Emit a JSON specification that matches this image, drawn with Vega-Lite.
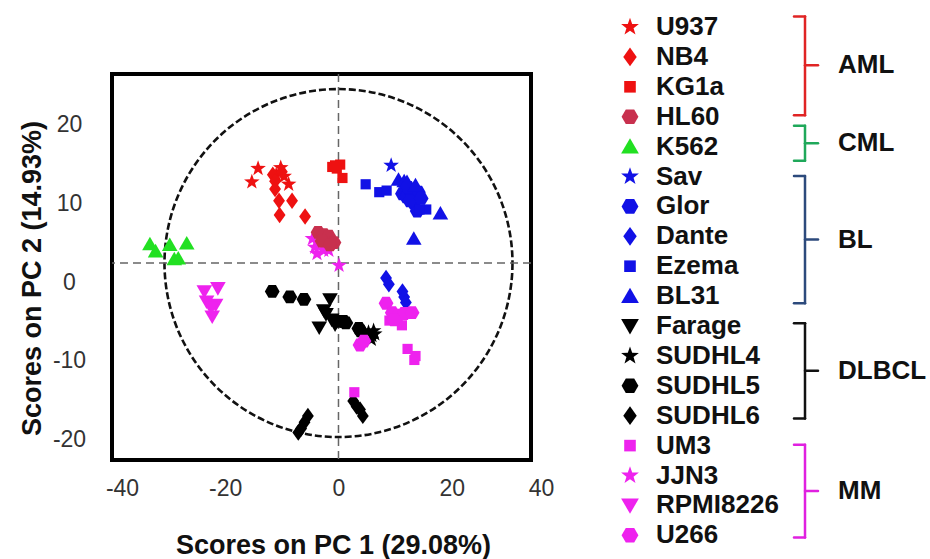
{
  "$schema": "https://vega.github.io/schema/vega-lite/v6.json",
  "autosize": {"type": "none"},
  "width": 419,
  "height": 386,
  "padding": {"left": 112, "top": 74, "right": 399, "bottom": 99},
  "background": "white",
  "datasets": {
    "pts": [
      {"line": "U937", "pc1": -14.2, "pc2": 12.0},
      {"line": "U937", "pc1": -10.2, "pc2": 12.1},
      {"line": "U937", "pc1": -15.3, "pc2": 10.3},
      {"line": "U937", "pc1": -8.8, "pc2": 10.0},
      {"line": "U937", "pc1": -11.0, "pc2": 11.2},
      {"line": "U937", "pc1": -9.6, "pc2": 11.0},
      {"line": "NB4", "pc1": -11.6, "pc2": 11.2},
      {"line": "NB4", "pc1": -11.2, "pc2": 10.4},
      {"line": "NB4", "pc1": -11.2, "pc2": 9.4},
      {"line": "NB4", "pc1": -10.5, "pc2": 7.9},
      {"line": "NB4", "pc1": -8.2, "pc2": 7.9},
      {"line": "NB4", "pc1": -10.4, "pc2": 6.1},
      {"line": "NB4", "pc1": -5.9, "pc2": 5.9},
      {"line": "NB4", "pc1": -10.0, "pc2": 11.6},
      {"line": "KG1a", "pc1": -1.1, "pc2": 12.2},
      {"line": "KG1a", "pc1": 0.3, "pc2": 12.5},
      {"line": "KG1a", "pc1": -0.3, "pc2": 12.0},
      {"line": "KG1a", "pc1": 0.7, "pc2": 10.8},
      {"line": "KG1a", "pc1": -0.6, "pc2": 12.4},
      {"line": "JJN3", "pc1": -4.6, "pc2": 3.1},
      {"line": "JJN3", "pc1": -3.8, "pc2": 1.2},
      {"line": "JJN3", "pc1": -2.6, "pc2": 1.6},
      {"line": "JJN3", "pc1": -1.7, "pc2": 1.6},
      {"line": "JJN3", "pc1": -4.2, "pc2": 2.0},
      {"line": "JJN3", "pc1": -3.3, "pc2": 2.4},
      {"line": "JJN3", "pc1": 0.1, "pc2": -0.3},
      {"line": "HL60", "pc1": -3.6, "pc2": 3.9},
      {"line": "HL60", "pc1": -2.6, "pc2": 3.6},
      {"line": "HL60", "pc1": -1.7, "pc2": 3.4},
      {"line": "HL60", "pc1": -0.8, "pc2": 2.6},
      {"line": "HL60", "pc1": -2.9, "pc2": 2.8},
      {"line": "HL60", "pc1": -1.5, "pc2": 2.3},
      {"line": "K562", "pc1": -33.3, "pc2": 2.4},
      {"line": "K562", "pc1": -32.3, "pc2": 1.5},
      {"line": "K562", "pc1": -29.8, "pc2": 2.3},
      {"line": "K562", "pc1": -29.0, "pc2": 0.5},
      {"line": "K562", "pc1": -28.3, "pc2": 0.6},
      {"line": "K562", "pc1": -26.8, "pc2": 2.5},
      {"line": "Sav", "pc1": 9.3, "pc2": 12.4},
      {"line": "Glor", "pc1": 11.3, "pc2": 8.8},
      {"line": "Glor", "pc1": 12.0, "pc2": 8.4},
      {"line": "Glor", "pc1": 13.0, "pc2": 8.8},
      {"line": "Glor", "pc1": 14.1, "pc2": 9.0},
      {"line": "Glor", "pc1": 13.3, "pc2": 7.6},
      {"line": "Glor", "pc1": 13.9, "pc2": 6.6},
      {"line": "Glor", "pc1": 12.6, "pc2": 7.9},
      {"line": "Glor", "pc1": 14.6, "pc2": 8.2},
      {"line": "Glor", "pc1": 12.3, "pc2": 9.6},
      {"line": "Dante", "pc1": 8.4, "pc2": -1.9},
      {"line": "Dante", "pc1": 8.9, "pc2": -2.7},
      {"line": "Dante", "pc1": 11.3, "pc2": -3.6},
      {"line": "Dante", "pc1": 11.6, "pc2": -4.3},
      {"line": "Dante", "pc1": 11.9, "pc2": -5.0},
      {"line": "Ezema", "pc1": 4.8, "pc2": 10.0},
      {"line": "Ezema", "pc1": 7.2, "pc2": 9.0},
      {"line": "Ezema", "pc1": 8.5, "pc2": 9.2},
      {"line": "Ezema", "pc1": 15.5, "pc2": 6.8},
      {"line": "Ezema", "pc1": 14.3, "pc2": 6.8},
      {"line": "BL31", "pc1": 10.6, "pc2": 10.6},
      {"line": "BL31", "pc1": 11.6, "pc2": 10.4},
      {"line": "BL31", "pc1": 12.1, "pc2": 10.3},
      {"line": "BL31", "pc1": 13.6, "pc2": 9.9},
      {"line": "BL31", "pc1": 18.0, "pc2": 6.3},
      {"line": "BL31", "pc1": 13.3, "pc2": 3.1},
      {"line": "SUDHL5", "pc1": -11.7, "pc2": -3.6},
      {"line": "SUDHL5", "pc1": -8.6, "pc2": -4.3},
      {"line": "SUDHL5", "pc1": -6.1, "pc2": -4.6},
      {"line": "SUDHL5", "pc1": -0.1, "pc2": -7.4},
      {"line": "SUDHL5", "pc1": 0.9, "pc2": -7.4},
      {"line": "SUDHL5", "pc1": 1.3, "pc2": -7.6},
      {"line": "SUDHL5", "pc1": 3.6, "pc2": -8.3},
      {"line": "SUDHL5", "pc1": 3.9, "pc2": -8.6},
      {"line": "Farage", "pc1": -1.5, "pc2": -4.6},
      {"line": "Farage", "pc1": -2.6, "pc2": -6.0},
      {"line": "Farage", "pc1": -2.2, "pc2": -6.5},
      {"line": "Farage", "pc1": -3.4, "pc2": -8.2},
      {"line": "Farage", "pc1": -0.6, "pc2": -7.8},
      {"line": "Farage", "pc1": -1.2, "pc2": -7.2},
      {"line": "SUDHL4", "pc1": 5.3, "pc2": -8.8},
      {"line": "SUDHL4", "pc1": 5.9, "pc2": -9.2},
      {"line": "SUDHL4", "pc1": 6.4, "pc2": -9.0},
      {"line": "SUDHL4", "pc1": 5.8, "pc2": -9.7},
      {"line": "SUDHL4", "pc1": 6.2, "pc2": -8.6},
      {"line": "SUDHL6", "pc1": 2.6, "pc2": -17.5},
      {"line": "SUDHL6", "pc1": 3.2, "pc2": -18.2},
      {"line": "SUDHL6", "pc1": 3.8, "pc2": -18.6},
      {"line": "SUDHL6", "pc1": 4.3, "pc2": -19.4},
      {"line": "SUDHL6", "pc1": -5.4, "pc2": -19.4},
      {"line": "SUDHL6", "pc1": -6.0, "pc2": -20.2},
      {"line": "SUDHL6", "pc1": -6.6, "pc2": -21.0},
      {"line": "SUDHL6", "pc1": -7.1, "pc2": -21.5},
      {"line": "UM3", "pc1": 2.8, "pc2": -16.4},
      {"line": "UM3", "pc1": 9.0, "pc2": -7.3},
      {"line": "UM3", "pc1": 11.2, "pc2": -7.9},
      {"line": "UM3", "pc1": 12.2, "pc2": -10.9},
      {"line": "UM3", "pc1": 13.4, "pc2": -12.3},
      {"line": "UM3", "pc1": 13.6, "pc2": -11.8},
      {"line": "UM3", "pc1": 12.6, "pc2": -6.3},
      {"line": "RPMI8226", "pc1": -23.7, "pc2": -3.6},
      {"line": "RPMI8226", "pc1": -21.3, "pc2": -3.2},
      {"line": "RPMI8226", "pc1": -23.3, "pc2": -4.9},
      {"line": "RPMI8226", "pc1": -21.7, "pc2": -5.3},
      {"line": "RPMI8226", "pc1": -22.3, "pc2": -6.8},
      {"line": "RPMI8226", "pc1": -22.5, "pc2": -5.7},
      {"line": "U266", "pc1": 8.4, "pc2": -5.1},
      {"line": "U266", "pc1": 9.5, "pc2": -6.3},
      {"line": "U266", "pc1": 10.6, "pc2": -6.6},
      {"line": "U266", "pc1": 11.6, "pc2": -6.4},
      {"line": "U266", "pc1": 13.0, "pc2": -6.3},
      {"line": "U266", "pc1": 3.8, "pc2": -10.4},
      {"line": "U266", "pc1": 4.5, "pc2": -9.9},
      {"line": "U266", "pc1": 9.8, "pc2": -7.2}
    ],
    "leg": [
      {"line": "U937", "row": 0}, {"line": "NB4", "row": 1}, {"line": "KG1a", "row": 2},
      {"line": "HL60", "row": 3}, {"line": "K562", "row": 4}, {"line": "Sav", "row": 5},
      {"line": "Glor", "row": 6}, {"line": "Dante", "row": 7}, {"line": "Ezema", "row": 8},
      {"line": "BL31", "row": 9}, {"line": "Farage", "row": 10}, {"line": "SUDHL4", "row": 11},
      {"line": "SUDHL5", "row": 12}, {"line": "SUDHL6", "row": 13}, {"line": "UM3", "row": 14},
      {"line": "JJN3", "row": 15}, {"line": "RPMI8226", "row": 16}, {"line": "U266", "row": 17}
    ],
    "grp": [
      {"group": "AML", "top": -0.35, "bottom": 2.95, "mid": 1.28},
      {"group": "CML", "top": 3.3, "bottom": 4.47, "mid": 3.89},
      {"group": "BL", "top": 4.98, "bottom": 9.24, "mid": 7.11},
      {"group": "DLBCL", "top": 9.91, "bottom": 13.09, "mid": 11.5},
      {"group": "MM", "top": 13.97, "bottom": 17.07, "mid": 15.52}
    ]
  },
  "resolve": {"scale": {"x": "independent", "y": "independent"}},
  "layer": [
    {
      "layer": [
        {
          "data": {"values": [{}]},
          "mark": {"type": "point", "shape": "circle", "filled": false, "size": 121104, "stroke": "#111", "strokeWidth": 2.6, "strokeDash": [7, 3], "opacity": 1},
          "encoding": {
            "x": {"datum": 0, "type": "quantitative"},
            "y": {"datum": 0, "type": "quantitative"}
          }
        },
        {
          "data": {"values": [{}]},
          "mark": {"type": "rule", "stroke": "#666", "strokeWidth": 1.5, "strokeDash": [8, 5]},
          "encoding": {"x": {"datum": 0, "type": "quantitative"}}
        },
        {
          "data": {"values": [{}]},
          "mark": {"type": "rule", "stroke": "#666", "strokeWidth": 1.5, "strokeDash": [8, 5]},
          "encoding": {"y": {"datum": 0, "type": "quantitative"}}
        },
        {
          "data": {"name": "pts"},
          "mark": {"type": "point", "filled": true, "opacity": 1, "size": 270, "strokeWidth": 0},
          "encoding": {
            "x": {
              "field": "pc1", "type": "quantitative",
              "scale": {"domain": [-40, 34], "nice": false, "zero": false},
              "axis": {
                "values": [-40, -20, 0, 20, 34],
                "labelExpr": "datum.value == 34 ? '40' : '' + datum.value",
                "labelFlush": false,
                "labelPadding": 17,
                "labelOffset": {"condition": {"test": "datum.value == -40 || datum.value == 34", "value": 10}, "value": 0},
                "title": "Scores on PC 1 (29.08%)",
                "titleX": 221, "titleY": 85, "titleBaseline": "middle"
              }
            },
            "y": {
              "field": "pc2", "type": "quantitative",
              "scale": {"domain": [-25, 24], "nice": false, "zero": false},
              "axis": {
                "values": [-20, -10, 0, 10, 20],
                "labelExpr": "'' + datum.value",
                "labelFlush": false,
                "labelAlign": "center",
                "labelBaseline": "middle",
                "labelPadding": 43,
                "labelOffset": 19,
                "title": "Scores on PC 2 (14.93%)",
                "titleX": -80, "titleY": 204, "titleBaseline": "middle"
              }
            },
            "color": {"field": "line", "type": "nominal", "legend": null,
              "scale": {
                "domain": ["U937","NB4","KG1a","HL60","K562","Sav","Glor","Dante","Ezema","BL31","Farage","SUDHL4","SUDHL5","SUDHL6","UM3","JJN3","RPMI8226","U266"],
                "range": ["#ee1111","#ee1111","#ee1111","#c8304e","#22e022","#1111e6","#1111e6","#1111e6","#1111e6","#1111e6","#000000","#000000","#000000","#000000","#ee22ee","#ee22ee","#ee22ee","#ee22ee"]
              }
            },
            "shape": {"field": "line", "type": "nominal", "legend": null,
              "scale": {
                "domain": ["U937","NB4","KG1a","HL60","K562","Sav","Glor","Dante","Ezema","BL31","Farage","SUDHL4","SUDHL5","SUDHL6","UM3","JJN3","RPMI8226","U266"],
                "range": [
                  "M0,-1L0.235,-0.324L0.951,-0.309L0.38,0.124L0.588,0.809L0,0.4L-0.588,0.809L-0.38,0.124L-0.951,-0.309L-0.235,-0.324Z",
                  "M0,-1L0.72,0L0,1L-0.72,0Z",
                  "M-0.62,-0.62L0.62,-0.62L0.62,0.62L-0.62,0.62Z",
                  "M0.9,0L0.45,0.78L-0.45,0.78L-0.9,0L-0.45,-0.78L0.45,-0.78Z",
                  "M0,-0.9L0.95,0.75L-0.95,0.75Z",
                  "M0,-1L0.235,-0.324L0.951,-0.309L0.38,0.124L0.588,0.809L0,0.4L-0.588,0.809L-0.38,0.124L-0.951,-0.309L-0.235,-0.324Z",
                  "M0.9,0L0.45,0.78L-0.45,0.78L-0.9,0L-0.45,-0.78L0.45,-0.78Z",
                  "M0,-1L0.72,0L0,1L-0.72,0Z",
                  "M-0.62,-0.62L0.62,-0.62L0.62,0.62L-0.62,0.62Z",
                  "M0,-0.9L0.95,0.75L-0.95,0.75Z",
                  "M0,0.9L0.95,-0.75L-0.95,-0.75Z",
                  "M0,-1L0.235,-0.324L0.951,-0.309L0.38,0.124L0.588,0.809L0,0.4L-0.588,0.809L-0.38,0.124L-0.951,-0.309L-0.235,-0.324Z",
                  "M0.9,0L0.45,0.78L-0.45,0.78L-0.9,0L-0.45,-0.78L0.45,-0.78Z",
                  "M0,-1L0.72,0L0,1L-0.72,0Z",
                  "M-0.62,-0.62L0.62,-0.62L0.62,0.62L-0.62,0.62Z",
                  "M0,-1L0.235,-0.324L0.951,-0.309L0.38,0.124L0.588,0.809L0,0.4L-0.588,0.809L-0.38,0.124L-0.951,-0.309L-0.235,-0.324Z",
                  "M0,0.9L0.95,-0.75L-0.95,-0.75Z",
                  "M0.9,0L0.45,0.78L-0.45,0.78L-0.9,0L-0.45,-0.78L0.45,-0.78Z"
                ]
              }
            }
          }
        }
      ]
    },
    {
      "layer": [
        {
          "data": {"name": "leg"},
          "mark": {"type": "point", "filled": true, "opacity": 1, "size": 350, "strokeWidth": 0},
          "encoding": {
            "x": {"datum": 4, "type": "quantitative", "scale": {"domain": [0, 34], "range": [478, 818], "nice": false, "zero": false}, "axis": null},
            "y": {"field": "row", "type": "quantitative", "scale": {"domain": [0, 17], "range": [-47, 461.3], "nice": false, "zero": false}, "axis": null},
            "color": {"field": "line", "type": "nominal", "legend": null},
            "shape": {"field": "line", "type": "nominal", "legend": null}
          }
        },
        {
          "data": {"name": "leg"},
          "mark": {"type": "text", "align": "left", "baseline": "middle", "fontSize": 26, "fontWeight": "bold", "font": "Liberation Sans", "color": "#111"},
          "encoding": {
            "x": {"datum": 6.6, "type": "quantitative"},
            "y": {"field": "row", "type": "quantitative"},
            "text": {"field": "line"}
          }
        },
        {
          "data": {"name": "grp"},
          "mark": {"type": "rule", "strokeWidth": 2.5, "strokeCap": "round"},
          "encoding": {
            "x": {"datum": 21.5, "type": "quantitative"},
            "y": {"field": "top", "type": "quantitative"},
            "y2": {"field": "bottom"},
            "stroke": {"field": "group", "type": "nominal", "legend": null,
              "scale": {"domain": ["AML","CML","BL","DLBCL","MM"], "range": ["#e02424","#1fa85a","#2c4a7c","#111111","#e020e0"]}}
          }
        },
        {
          "data": {"name": "grp"},
          "mark": {"type": "rule", "strokeWidth": 2.5, "strokeCap": "round"},
          "encoding": {
            "x": {"datum": 20.4, "type": "quantitative"},
            "x2": {"datum": 21.5},
            "y": {"field": "top", "type": "quantitative"},
            "stroke": {"field": "group", "type": "nominal", "legend": null}
          }
        },
        {
          "data": {"name": "grp"},
          "mark": {"type": "rule", "strokeWidth": 2.5, "strokeCap": "round"},
          "encoding": {
            "x": {"datum": 20.4, "type": "quantitative"},
            "x2": {"datum": 21.5},
            "y": {"field": "bottom", "type": "quantitative"},
            "stroke": {"field": "group", "type": "nominal", "legend": null}
          }
        },
        {
          "data": {"name": "grp"},
          "mark": {"type": "rule", "strokeWidth": 2.5, "strokeCap": "round"},
          "encoding": {
            "x": {"datum": 21.5, "type": "quantitative"},
            "x2": {"datum": 22.8},
            "y": {"field": "mid", "type": "quantitative"},
            "stroke": {"field": "group", "type": "nominal", "legend": null}
          }
        },
        {
          "data": {"name": "grp"},
          "mark": {"type": "text", "align": "left", "baseline": "middle", "fontSize": 26, "fontWeight": "bold", "font": "Liberation Sans", "color": "#111"},
          "encoding": {
            "x": {"datum": 24.8, "type": "quantitative"},
            "y": {"field": "mid", "type": "quantitative"},
            "text": {"field": "group"}
          }
        }
      ]
    }
  ],
  "config": {
    "font": "Liberation Sans",
    "view": {"stroke": "#000", "strokeWidth": 4},
    "axis": {
      "domain": false, "grid": false, "ticks": false,
      "labelFont": "Liberation Sans", "labelFontSize": 23, "labelColor": "#333",
      "titleFont": "Liberation Sans", "titleFontSize": 27, "titleFontWeight": "bold", "titleColor": "#111"
    }
  }
}
